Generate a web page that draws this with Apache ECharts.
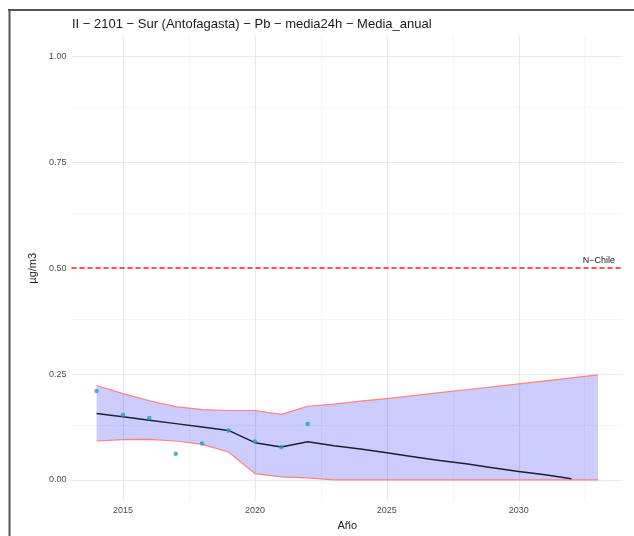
<!DOCTYPE html>
<html>
<head>
<meta charset="utf-8">
<script src="https://cdn.jsdelivr.net/npm/echarts@6/dist/echarts.min.js"></script>
<style>
  html, body { margin: 0; padding: 0; background: #ffffff; }
  #chart { width: 634px; height: 536px; }
</style>
</head>
<body>
<div id="chart"></div>
<script>
// Annual mean Pb (24h) at station 2101 Sur (Antofagasta), with trend and band
const bandYears = [2014, 2015, 2016, 2017, 2018, 2019, 2020, 2021, 2022, 2023, 2024, 2025, 2026, 2027, 2028, 2029, 2030, 2031, 2032, 2033];
const bandUpper = [0.223, 0.204, 0.187, 0.173, 0.166, 0.164, 0.164, 0.155, 0.174, 0.179, 0.186, 0.192, 0.199, 0.206, 0.213, 0.220, 0.227, 0.234, 0.241, 0.248];
const bandLower = [0.092, 0.095, 0.096, 0.092, 0.084, 0.066, 0.015, 0.007, 0.005, 0.000, 0.000, 0.000, 0.000, 0.000, 0.000, 0.000, 0.000, 0.000, 0.000, 0.000];

const trendYears = [2014, 2015, 2016, 2017, 2018, 2019, 2020, 2021, 2022, 2023, 2024, 2025, 2026, 2027, 2028, 2029, 2030, 2031, 2032];
const trendValues = [0.157, 0.149, 0.141, 0.133, 0.125, 0.117, 0.088, 0.078, 0.090, 0.081, 0.073, 0.064, 0.055, 0.046, 0.038, 0.029, 0.020, 0.012, 0.003];

const obsYears = [2014, 2015, 2016, 2017, 2018, 2019, 2020, 2021, 2022];
const obsValues = [0.210, 0.154, 0.146, 0.062, 0.086, 0.117, 0.091, 0.078, 0.132];

const normValue = 0.5;
const normLabel = 'N\u2212Chile';

const xTickValues = [2015, 2020, 2025, 2030];
const xMinorValues = [2017.5, 2022.5, 2027.5, 2032.5];
const yTickValues = [0, 0.25, 0.5, 0.75, 1];
const yMinorValues = [0.125, 0.375, 0.625, 0.875];

const titleText = 'II \u2212 2101 \u2212 Sur (Antofagasta) \u2212 Pb \u2212 media24h \u2212 Media_anual';

const FONT = '"Liberation Sans", Arial, sans-serif';

const pairs = (xs, ys) => xs.map((x, i) => [x, ys[i]]);

const gridLines = [];
xMinorValues.forEach(v => gridLines.push({ xAxis: v, lineStyle: { color: '#f2f2f2', width: 0.8, type: 'solid' } }));
yMinorValues.forEach(v => gridLines.push({ yAxis: v, lineStyle: { color: '#f2f2f2', width: 0.8, type: 'solid' } }));
xTickValues.forEach(v => gridLines.push({ xAxis: v, lineStyle: { color: '#e9e9e9', width: 1.2, type: 'solid' } }));
yTickValues.forEach(v => gridLines.push({ yAxis: v, lineStyle: { color: '#e9e9e9', width: 1.2, type: 'solid' } }));

// One row per band vertex: [year, lower, upper]
const bandRows = bandYears.map((y, i) => [y, bandLower[i], bandUpper[i]]);

// Filled ribbon between lower and upper bounds, drawn as a single polygon
function renderBand(params, api) {
  if (params.dataIndex !== 0) return null;
  const top = bandRows.map(r => api.coord([r[0], r[2]]));
  const bottom = bandRows.map(r => api.coord([r[0], r[1]])).reverse();
  return {
    type: 'polygon',
    shape: { points: top.concat(bottom) },
    style: { fill: 'rgba(0,0,255,0.2)', stroke: 'none' },
    silent: true
  };
}

const chart = echarts.init(document.getElementById('chart'), null, { renderer: 'canvas' });

chart.setOption({
  animation: false,
  backgroundColor: '#ffffff',
  textStyle: { fontFamily: FONT },
  title: {
    text: titleText,
    left: 67,
    top: 13,
    textStyle: { fontFamily: FONT, fontSize: 13, fontWeight: 'normal', color: '#1a1a1a' }
  },
  grid: { left: 71.5, right: 11, top: 35.4, bottom: 32.4, containLabel: false },
  xAxis: {
    type: 'value',
    min: 2013.05,
    max: 2033.95,
    name: 'A\u00f1o',
    nameLocation: 'middle',
    nameGap: 16,
    nameTextStyle: { fontFamily: FONT, fontSize: 11, color: '#1a1a1a' },
    axisLine: { show: false },
    axisTick: { show: false, customValues: xTickValues },
    splitLine: { show: false },
    axisLabel: {
      customValues: xTickValues,
      color: '#4d4d4d',
      fontSize: 9,
      margin: 5,
      fontFamily: FONT,
      formatter: v => String(v)
    }
  },
  yAxis: {
    type: 'value',
    min: -0.05,
    max: 1.05,
    name: '\u00b5g/m3',
    nameLocation: 'middle',
    nameRotate: 90,
    nameGap: 27,
    nameTextStyle: { fontFamily: FONT, fontSize: 11, color: '#1a1a1a' },
    axisLine: { show: false },
    axisTick: { show: false, customValues: yTickValues },
    splitLine: { show: false },
    axisLabel: {
      customValues: yTickValues,
      color: '#4d4d4d',
      fontSize: 9,
      margin: 5,
      fontFamily: FONT,
      formatter: v => v.toFixed(2)
    }
  },
  graphic: [
    { type: 'line', silent: true, shape: { x1: 8, y1: 10, x2: 634, y2: 10 }, style: { stroke: '#555555', lineWidth: 2 } },
    { type: 'line', silent: true, shape: { x1: 9.5, y1: 9, x2: 9.5, y2: 536 }, style: { stroke: '#555555', lineWidth: 2 } }
  ],
  series: [
    {
      name: 'grid',
      type: 'line',
      z: 1,
      silent: true,
      symbol: 'none',
      data: [[2014, 0]],
      lineStyle: { opacity: 0 },
      markLine: {
        z: 0,
        silent: true,
        symbol: ['none', 'none'],
        label: { show: false },
        emphasis: { disabled: true },
        data: gridLines
      }
    },
    {
      name: 'band',
      type: 'custom',
      z: 2,
      silent: true,
      renderItem: renderBand,
      encode: { x: 0, y: [1, 2] },
      data: bandRows
    },
    {
      name: 'upper',
      type: 'line',
      z: 3,
      symbol: 'none',
      silent: true,
      data: pairs(bandYears, bandUpper),
      lineStyle: { color: '#ff8080', width: 1.2 }
    },
    {
      name: 'lower',
      type: 'line',
      z: 3,
      symbol: 'none',
      silent: true,
      data: pairs(bandYears, bandLower),
      lineStyle: { color: '#ff8080', width: 1.2 }
    },
    {
      name: 'norm',
      type: 'line',
      z: 3,
      symbol: 'none',
      silent: true,
      data: [],
      markLine: {
        z: 3,
        silent: true,
        symbol: ['none', 'none'],
        lineStyle: { color: '#ff1a1a', width: 1.5, type: [5, 3] },
        label: {
          show: true,
          position: 'insideEndTop',
          formatter: normLabel,
          fontFamily: FONT,
          fontSize: 9,
          color: '#1a1a1a',
          distance: [8, 3]
        },
        data: [{ yAxis: normValue }]
      }
    },
    {
      name: 'trend',
      type: 'line',
      z: 4,
      symbol: 'none',
      silent: true,
      data: pairs(trendYears, trendValues),
      lineStyle: { color: '#1f1f33', width: 1.5 }
    },
    {
      name: 'observed',
      type: 'scatter',
      z: 5,
      silent: true,
      symbolSize: 4.5,
      data: pairs(obsYears, obsValues),
      itemStyle: { color: '#1aa3c9' }
    }
  ]
});
</script>
</body>
</html>
